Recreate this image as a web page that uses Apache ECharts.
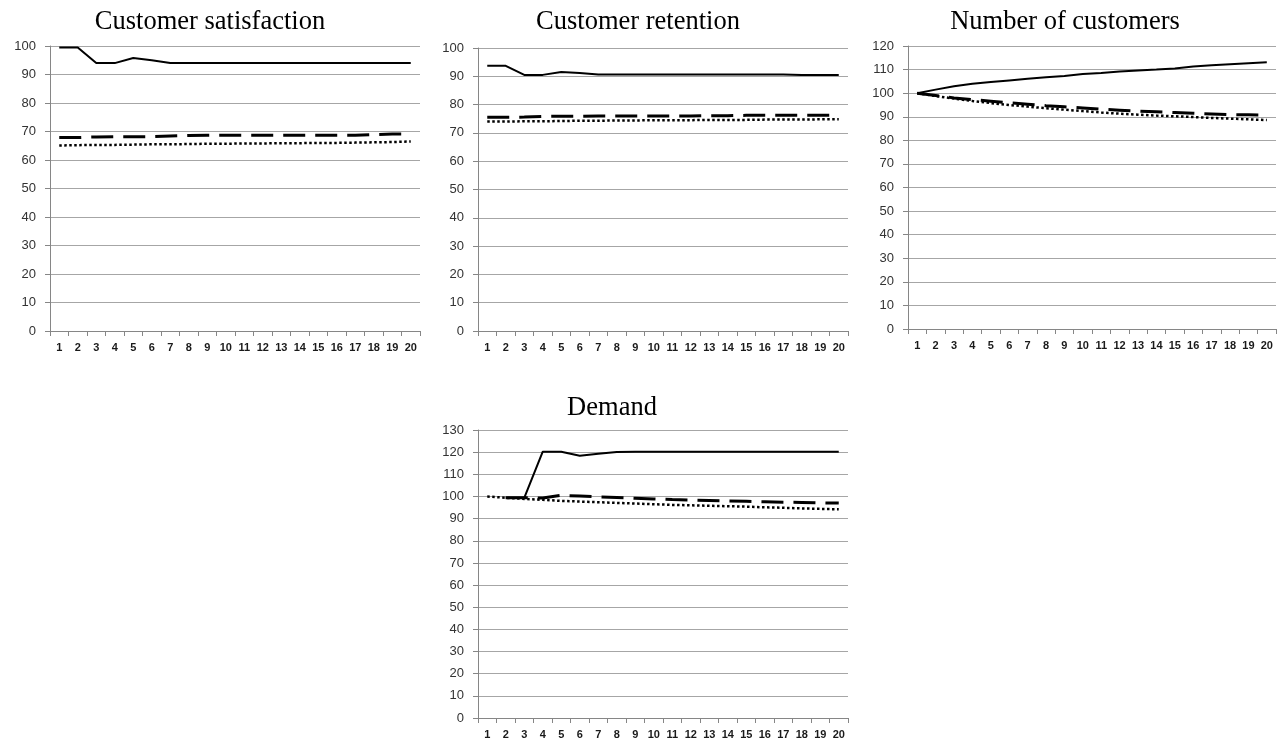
<!DOCTYPE html>
<html>
<head>
<meta charset="utf-8">
<script src="https://cdn.jsdelivr.net/npm/echarts@6/dist/echarts.min.js"></script>
<style>
  html, body { margin: 0; padding: 0; background: #fff; }
  #chart { width: 1280px; height: 740px; }
</style>
</head>
<body>
<div id="chart"></div>
<script>
// Periods shown on every x axis
const periods = ['1','2','3','4','5','6','7','8','9','10','11','12','13','14','15','16','17','18','19','20'];

// Customer satisfaction
const satisfactionSolid  = [99.5, 99.5, 94, 94, 95.8, 95, 94, 94, 94, 94, 94, 94, 94, 94, 94, 94, 94, 94, 94, 94];
const satisfactionDashed = [67.9, 67.9, 68.1, 68.2, 68.2, 68.2, 68.4, 68.6, 68.7, 68.7, 68.7, 68.7, 68.7, 68.7, 68.7, 68.7, 68.7, 68.9, 69.1, 69.1];
const satisfactionDotted = [65.1, 65.2, 65.3, 65.3, 65.4, 65.5, 65.5, 65.6, 65.7, 65.7, 65.8, 65.8, 65.9, 65.9, 66.0, 66.0, 66.1, 66.2, 66.3, 66.5];

// Customer retention
const retentionSolid  = [93.7, 93.7, 90.5, 90.5, 91.5, 91.2, 90.6, 90.6, 90.6, 90.6, 90.6, 90.6, 90.6, 90.6, 90.6, 90.6, 90.6, 90.5, 90.5, 90.5];
const retentionDashed = [75.5, 75.5, 75.6, 75.8, 75.9, 75.9, 76.0, 76.0, 76.0, 76.0, 76.0, 76.0, 76.1, 76.1, 76.2, 76.2, 76.2, 76.2, 76.2, 76.2];
const retentionDotted = [74.0, 74.0, 74.1, 74.1, 74.2, 74.3, 74.3, 74.4, 74.4, 74.5, 74.5, 74.5, 74.6, 74.6, 74.6, 74.7, 74.7, 74.7, 74.8, 74.8];

// Number of customers
const customersSolid  = [100, 101.5, 102.9, 104.0, 104.7, 105.4, 106.1, 106.8, 107.3, 108.1, 108.5, 109.2, 109.6, 110.0, 110.5, 111.3, 111.8, 112.3, 112.7, 113.1];
const customersDashed = [100, 99.0, 98.0, 97.3, 96.6, 95.9, 95.3, 94.7, 94.2, 93.7, 93.2, 92.8, 92.4, 92.1, 91.8, 91.5, 91.2, 90.9, 90.8, 90.7];
const customersDotted = [100, 98.8, 97.7, 96.7, 95.8, 95.0, 94.3, 93.6, 93.0, 92.4, 91.8, 91.3, 90.9, 90.5, 90.2, 89.9, 89.5, 89.2, 88.9, 88.6];

// Demand
const demandSolid  = [null, 99.4, 99.4, 120.2, 120.2, 118.4, 119.3, 120.1, 120.2, 120.2, 120.2, 120.2, 120.2, 120.2, 120.2, 120.2, 120.2, 120.2, 120.2, 120.2];
const demandDashed = [null, 99.4, 99.4, 99.3, 100.5, 100.2, 99.8, 99.5, 99.2, 98.9, 98.6, 98.4, 98.2, 98.0, 97.8, 97.6, 97.4, 97.3, 97.1, 97.0];
const demandDotted = [100, 99.4, 98.9, 98.5, 98.0, 97.7, 97.4, 97.1, 96.8, 96.5, 96.2, 96.0, 95.8, 95.6, 95.4, 95.1, 94.9, 94.6, 94.4, 94.2];

const titles = ['Customer satisfaction', 'Customer retention', 'Number of customers', 'Demand'];
const yMax = [100, 100, 120, 130];

const panels = [
  { title: titles[0], max: yMax[0], data: [satisfactionSolid, satisfactionDashed, satisfactionDotted],
    grid: { left: 50, top: 46, width: 370, height: 285 }, titleX: 205, titleY: 4 },
  { title: titles[1], max: yMax[1], data: [retentionSolid, retentionDashed, retentionDotted],
    grid: { left: 478, top: 48, width: 370, height: 283 }, titleX: 633, titleY: 4 },
  { title: titles[2], max: yMax[2], data: [customersSolid, customersDashed, customersDotted],
    grid: { left: 908, top: 46, width: 368, height: 283 }, titleX: 1060, titleY: 4 },
  { title: titles[3], max: yMax[3], data: [demandSolid, demandDashed, demandDotted],
    grid: { left: 478, top: 430, width: 370, height: 288 }, titleX: 607, titleY: 390 }
];

const lineStyles = [
  { color: '#000', width: 2, type: 'solid' },
  { color: '#000', width: 3, type: [22, 10], cap: 'butt' },
  { color: '#000', width: 2.5, type: [2.5, 2.5], cap: 'butt' }
];

const option = {
  animation: false,
  backgroundColor: '#fff',
  title: [], grid: [], xAxis: [], yAxis: [], series: []
};

panels.forEach((p, i) => {
  option.title.push({
    text: p.title, left: p.titleX, top: p.titleY, textAlign: 'center',
    textStyle: { fontFamily: 'Liberation Serif', fontSize: 26.5, fontWeight: 'normal', color: '#000' }
  });
  option.grid.push(p.grid);
  option.xAxis.push({
    type: 'category', gridIndex: i, data: periods, boundaryGap: true,
    axisLine: { show: true, lineStyle: { color: '#868686', width: 1 } },
    axisTick: { show: true, length: 5, lineStyle: { color: '#868686' } },
    axisLabel: { interval: 0, margin: 11, fontFamily: 'Liberation Sans', fontSize: 11, fontWeight: 'bold', color: '#1a1a1a' },
    splitLine: { show: false }
  });
  option.yAxis.push({
    type: 'value', gridIndex: i, min: 0, max: p.max, interval: 10,
    axisLine: { show: true, lineStyle: { color: '#868686', width: 1 } },
    axisTick: { show: true, length: 5, lineStyle: { color: '#868686' } },
    axisLabel: { margin: 14, fontFamily: 'Liberation Sans', fontSize: 13, color: '#333' },
    splitLine: { show: true, lineStyle: { color: '#a6a6a6', width: 1 } }
  });
  p.data.forEach((values, k) => {
    option.series.push({
      type: 'line', xAxisIndex: i, yAxisIndex: i, data: values,
      showSymbol: false, symbol: 'none', smooth: false,
      lineStyle: lineStyles[k]
    });
  });
});

const chart = echarts.init(document.getElementById('chart'), null, { renderer: 'canvas' });
chart.setOption(option);
</script>
</body>
</html>
